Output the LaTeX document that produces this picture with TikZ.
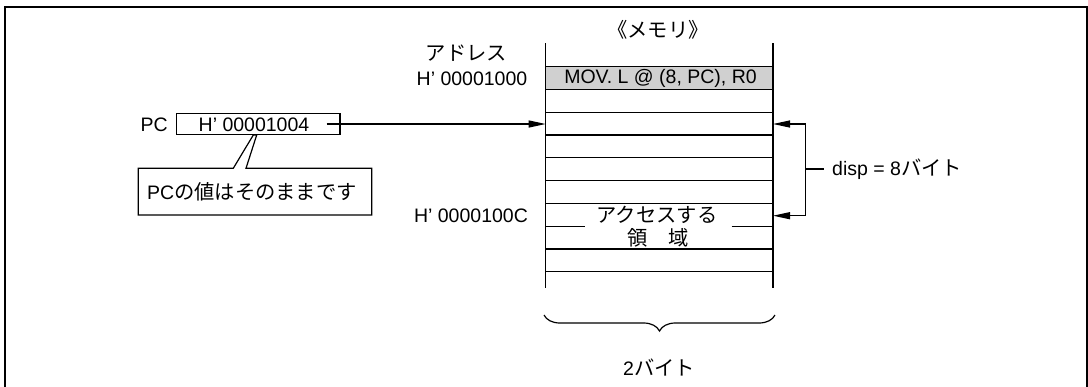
\documentclass[tikz,border=0pt]{standalone}
\usepackage{fontspec}
\setmainfont{Liberation Sans}
\newfontfamily\jp[Scale=1.04]{Noto Sans CJK JP}
\usetikzlibrary{arrows.meta,decorations.pathreplacing}
\definecolor{cellgray}{RGB}{208,208,208}
\begin{document}
\begin{tikzpicture}[x=1bp,y=-1bp,
  txt/.style={inner sep=0pt, font=\fontsize{19.5bp}{22bp}\selectfont},
  memline/.style={line width=1.2bp, draw=black},
  arr/.style={-{Triangle[length=17bp,width=7bp]}, line width=1.2bp},
  plain/.style={line width=1.2bp}]
\useasboundingbox (0,0) rectangle (1088,386);
% frame
\draw[line width=2bp] (5,400) -- (5,7) -- (1087,7) -- (1087,400);
% memory
\def\L{545.7}\def\R{773}
\fill[cellgray] (\L,66.7) rectangle (\R,89.5);
\draw[memline] (\L,43) -- (\L,288);
\draw[memline] (\R,43) -- (\R,288);
\foreach \k in {0,1,2,3,4,5,6,8,9}{
  \draw[memline] (\L,{66.7+22.78*\k}) -- (\R,{66.7+22.78*\k});
}
\draw[memline] (\L,226.2) -- (585,226.2);
\draw[memline] (731.7,226.2) -- (\R,226.2);
\node[txt] (mov) at (660.5,78.5) {MOV. L @ (8, PC), R0};
\node[txt] (acc) at (657,215) {\jp アクセスする};
\node[txt] (ryo) at (658,238) {\jp 領　域};
\node[txt] (memt) at (658,30) {\jp 《メモリ》};
\node[txt] (adr) at (466.5,53) {\jp アドレス};
\node[txt] (a1000) at (472,79) {H' 00001000};
\node[txt] (a100c) at (471,215.5) {H' 0000100C};
% PC box
\node[txt, anchor=east] (pclab) at (168,124.5) {PC};
\node[draw, plain, minimum width=163.3bp, minimum height=21.7bp, inner sep=0pt] (pc) at (258.3,124) {};
\node[txt] (pcval) at (254,124.5) {H' 00001004};
\coordinate (pcstart) at (326.7,124);
\coordinate (memin) at (\L,124);
\draw[arr] (pcstart) -- (memin);
% callout
\draw[plain] (233.3,168.3) -- (253.3,135) -- (256.7,135) -- (246,168.3) -- (371.7,168.3) -- (371.7,215) -- (138.3,215) -- (138.3,168.3) -- cycle;
\node[txt] (note) at (252,191.5) {PC{\jp の値はそのままです}};
% disp bracket
\coordinate (r1) at (\R,124);
\coordinate (r2) at (\R,215.7);
\coordinate (b1) at (805.7,124);
\coordinate (b2) at (805.7,215.7);
\coordinate (bm) at (805.7,169);
\coordinate (bt) at (824.3,169);
\draw[arr] (b1) -- (r1);
\draw[arr] (b2) -- (r2);
\draw[plain] (b1) -- (b2);
\draw[plain] (bm) -- (bt);
\node[txt, anchor=west] (disp) at (832,169.5) {disp = 8{\jp バイト}};
% brace
\draw[plain, decorate, decoration={brace, amplitude=16bp, mirror}] (544,315) -- (775,315);
\node[txt] (two) at (659,368) {2{\jp バイト}};
\end{tikzpicture}
\end{document}
